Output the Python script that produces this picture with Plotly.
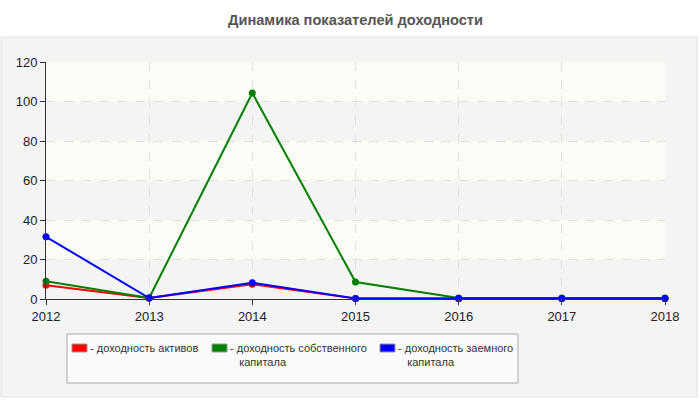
import plotly.graph_objects as go

years = [2012, 2013, 2014, 2015, 2016, 2017, 2018]
series_names = ["доходность активов", "доходность собственного<br>капитала", "доходность заемного<br>капитала"]
roa = [7.0, 0.5, 7.5, 0.3, 0.2, 0.2, 0.2]
roe = [9.0, 0.5, 104.3, 8.6, 0.5, 0.5, 0.5]
rod = [31.5, 0.5, 8.2, 0.3, 0.3, 0.3, 0.3]
colors = ["#ff0000", "#008000", "#0000ff"]
series = [roa, roe, rod]

L, R, T, B = 46, 35, 62, 101
W, H = 700, 400
pw, ph = W - L - R, H - T - B

def px(x):
    return (x - L) / pw

def py(y):
    return (T + ph - y) / ph

fig = go.Figure()
for name, vals, c in zip(series_names, series, colors):
    fig.add_trace(go.Scatter(x=years, y=vals, mode="lines+markers", name=name,
                             line=dict(color=c, width=2), marker=dict(color=c, size=7),
                             cliponaxis=False, showlegend=False))

shapes = []
# outer panel
shapes.append(dict(type="rect", xref="paper", yref="paper", x0=px(1), x1=px(697), y0=py(397), y1=py(37),
                   fillcolor="#f4f4f4", line=dict(color="#e0e0e0", width=1), layer="below"))
# plot bands
for i in range(6):
    shapes.append(dict(type="rect", xref="paper", yref="y", x0=0, x1=1, y0=i * 20, y1=(i + 1) * 20,
                       fillcolor="#f4f4f2" if i % 2 == 0 else "#fcfcf6", line=dict(width=0), layer="below"))
# legend box
shapes.append(dict(type="rect", xref="paper", yref="paper", x0=px(67), x1=px(518), y0=py(383), y1=py(334),
                   fillcolor="#fafafa", line=dict(color="#aaaaaa", width=1)))
annotations = []
leg_x = [72, 212, 380]
for x0, name, c in zip(leg_x, series_names, colors):
    shapes.append(dict(type="rect", xref="paper", yref="paper", x0=px(x0), x1=px(x0 + 15), y0=py(352), y1=py(344),
                       fillcolor=c, line=dict(color="#999999", width=1)))
    annotations.append(dict(xref="paper", yref="paper", x=px(x0 + 16), y=py(340), xanchor="left", yanchor="top",
                            text="- " + name.replace("<br>", "<br>   "), showarrow=False, align="left",
                            font=dict(family="Liberation Sans, Arial", size=11, color="#333333")))

fig.update_layout(
    width=W, height=H,
    margin=dict(l=L, r=R, t=T, b=B),
    paper_bgcolor="white",
    plot_bgcolor="#fcfcf6",
    title=dict(text="<b>Динамика показателей доходности</b>", x=0.5, xref="paper", xanchor="center",
               y=1 - 20 / H, yref="container", yanchor="middle",
               font=dict(family="Liberation Sans, Arial", size=14.6, color="#555555")),
    shapes=shapes,
    annotations=annotations,
    font=dict(family="Liberation Sans, Arial", size=13, color="#222222"),
)
fig.update_xaxes(range=[2012, 2018], tickvals=years, showgrid=True, gridcolor="#e0e0e0", griddash="dash",
                 showline=True, linecolor="#333333", ticks="outside", ticklen=5, tickcolor="#333333",
                 zeroline=False, tickfont=dict(size=13))
fig.update_yaxes(range=[0, 120], dtick=20, showgrid=True, gridcolor="#e0e0e0", griddash="dash",
                 showline=True, linecolor="#333333", ticks="outside", ticklen=5, tickcolor="#333333",
                 zeroline=False, tickfont=dict(size=13))

fig.write_html("out.html")
